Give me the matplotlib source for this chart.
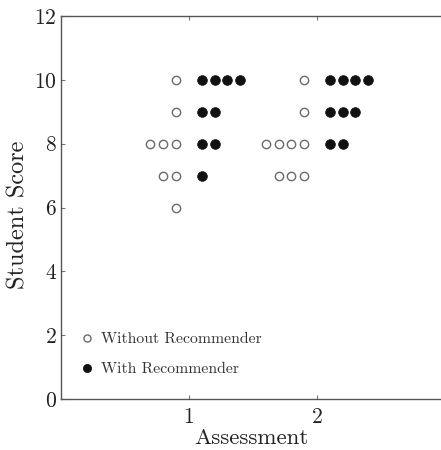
import numpy as np
import matplotlib
matplotlib.use("Agg")
import matplotlib.pyplot as plt

plt.rcParams['font.family'] = ['cmr10', 'DejaVu Serif']
plt.rcParams['axes.formatter.use_mathtext'] = True

# scores per assessment: {score: count}
without1 = {10: 1, 9: 1, 8: 3, 7: 2, 6: 1}
with1 = {10: 4, 9: 2, 8: 2, 7: 1}
without2 = {10: 1, 9: 1, 8: 4, 7: 3}
with2 = {10: 4, 9: 3, 8: 2}

step = 0.1

def spread(base, counts, direction):
    xs, ys = [], []
    for score, n in counts.items():
        for k in range(n):
            xs.append(base + direction * step * (k + 1))
            ys.append(score)
    return xs, ys

fig = plt.figure(figsize=(4.41, 4.50), dpi=100)
ax = fig.add_axes([0.138, 0.1133, 0.871, 0.8511])

ox, oy = [], []
fx, fy = [], []
for base, wo, wi in [(1, without1, with1), (2, without2, with2)]:
    x, y = spread(base, wo, -1)
    ox += x; oy += y
    x, y = spread(base, wi, 1)
    fx += x; fy += y

ax.plot(ox, oy, 'o', ls='none', ms=6.0, mfc='white', mec='#6a6a6a', mew=1.0,
        label='Without Recommender')
ax.plot(fx, fy, 'o', ls='none', ms=7.0, mfc='#111111', mec='#111111', mew=0.5,
        label='With Recommender')

ax.set_xlim(0, 3)
ax.set_ylim(0, 12)
ax.set_xticks([1, 2])
ax.set_yticks(np.arange(0, 13, 2))
ax.tick_params(direction='in', length=3, width=0.8, colors='#777777',
               labelcolor='#222222', labelsize=15.5, top=True, right=True, pad=3)
ax.tick_params(axis='x', pad=6)
for s in ax.spines.values():
    s.set_color('#555555')
    s.set_linewidth(1.0)

ax.set_xlabel('Assessment', fontsize=16.5, color='#222222')
ax.set_ylabel('Student Score', fontsize=17.5, color='#222222')
ax.xaxis.set_label_coords(0.497, -0.076)
ax.yaxis.set_label_coords(-0.082, 0.48)

leg = ax.legend(loc='lower left', frameon=False, fontsize=11.3, handletextpad=0.26,
                handlelength=1.2, labelspacing=1.0, borderaxespad=0, borderpad=0,
                markerscale=0.85, bbox_to_anchor=(0.044, 0.06))
for t in leg.get_texts():
    t.set_color('#333333')

fig.savefig('out.png', dpi=100)
